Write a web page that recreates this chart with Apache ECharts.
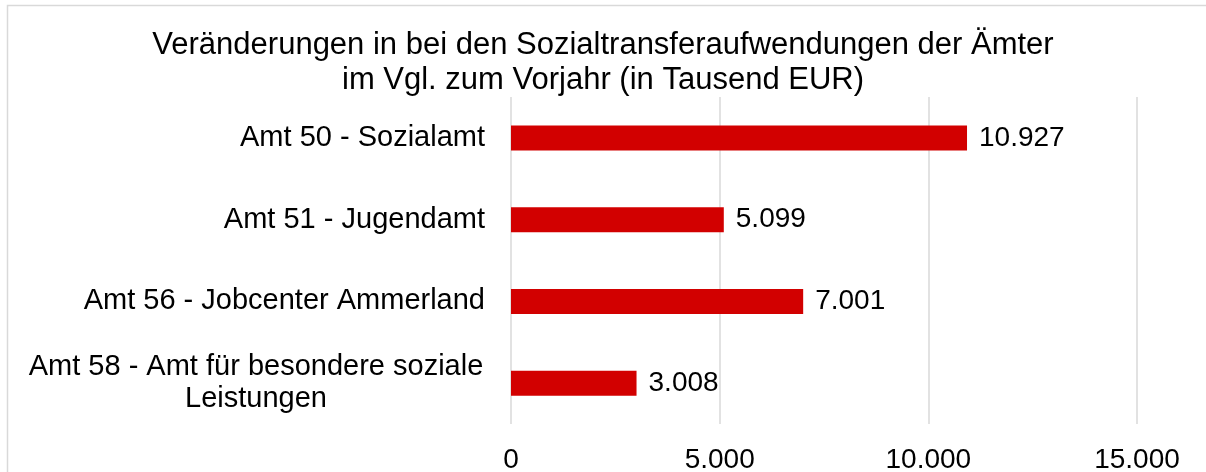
<!DOCTYPE html>
<html>
<head>
<meta charset="utf-8">
<script src="https://cdn.jsdelivr.net/npm/echarts@6/dist/echarts.min.js"></script>
<style>
  html, body { margin: 0; padding: 0; background: #fff; }
  #main { width: 1206px; height: 472px; }
</style>
</head>
<body>
<div id="main"></div>
<script>
// Kategorien von oben nach unten
var categories = [
  'Amt 50 - Sozialamt',
  'Amt 51 - Jugendamt',
  'Amt 56 - Jobcenter Ammerland',
  'Amt 58 - Amt für besondere soziale\nLeistungen'
];
// Veränderung in Tausend EUR
var values = [10927, 5099, 7001, 3008];
// Achsenskala
var xTicks = [0, 5000, 10000, 15000];

var FONT = '"Liberation Sans", Arial, sans-serif';

// 10927 -> "10.927"
function fmt(v) {
  return String(v).replace(/\B(?=(\d{3})+(?!\d))/g, '.');
}

var myChart = echarts.init(document.getElementById('main'), null, {renderer: 'canvas'});

myChart.setOption({
  animation: false,
  backgroundColor: '#fff',
  textStyle: {fontFamily: FONT},
  title: {
    text: 'Veränderungen in bei den Sozialtransferaufwendungen der Ämter\nim Vgl. zum Vorjahr (in Tausend EUR)',
    left: 'center',
    top: 28,
    padding: [0, 0, 0, 14],
    textStyle: {
      fontFamily: FONT,
      fontSize: 31,
      lineHeight: 35,
      fontWeight: 'normal',
      color: '#000'
    }
  },
  // Rahmen des Diagrammbereichs (rechts/unten abgeschnitten)
  graphic: [{
    type: 'rect',
    silent: true,
    shape: {x: 7.5, y: 5.5, width: 1400, height: 800},
    style: {fill: 'none', stroke: '#d9d9d9', lineWidth: 1.5}
  }],
  grid: {
    left: 511,
    right: 69,
    top: 97,
    bottom: 48,
    containLabel: false,
    outerBoundsMode: 'none'
  },
  xAxis: {
    type: 'value',
    min: xTicks[0],
    max: xTicks[xTicks.length - 1],
    interval: xTicks[1] - xTicks[0],
    axisLine: {show: false},
    axisTick: {show: false},
    splitLine: {lineStyle: {color: '#d9d9d9', width: 1.5}},
    axisLabel: {
      margin: 22,
      fontFamily: FONT,
      fontSize: 28,
      color: '#000',
      formatter: fmt
    }
  },
  yAxis: {
    type: 'category',
    inverse: true,
    data: categories,
    axisLine: {show: false},
    axisTick: {show: false},
    axisLabel: {
      margin: 26,
      fontFamily: FONT,
      fontSize: 29,
      lineHeight: 32,
      color: '#000',
      formatter: function (v) {
        if (v.indexOf('\n') < 0) return v;
        // mehrzeilig: Zeilen zentriert untereinander
        return v.split('\n').map(function (s) { return '{c|' + s + '}'; }).join('\n');
      },
      rich: {
        c: {
          width: 458,
          align: 'center',
          fontFamily: FONT,
          fontSize: 29,
          lineHeight: 32,
          color: '#000'
        }
      }
    }
  },
  series: [{
    type: 'bar',
    data: values,
    barWidth: 25,
    itemStyle: {color: '#d20000'},
    label: {
      show: true,
      position: 'right',
      distance: 12,
      fontFamily: FONT,
      fontSize: 28,
      color: '#000',
      formatter: function (p) { return fmt(p.value); }
    }
  }]
});
</script>
</body>
</html>
